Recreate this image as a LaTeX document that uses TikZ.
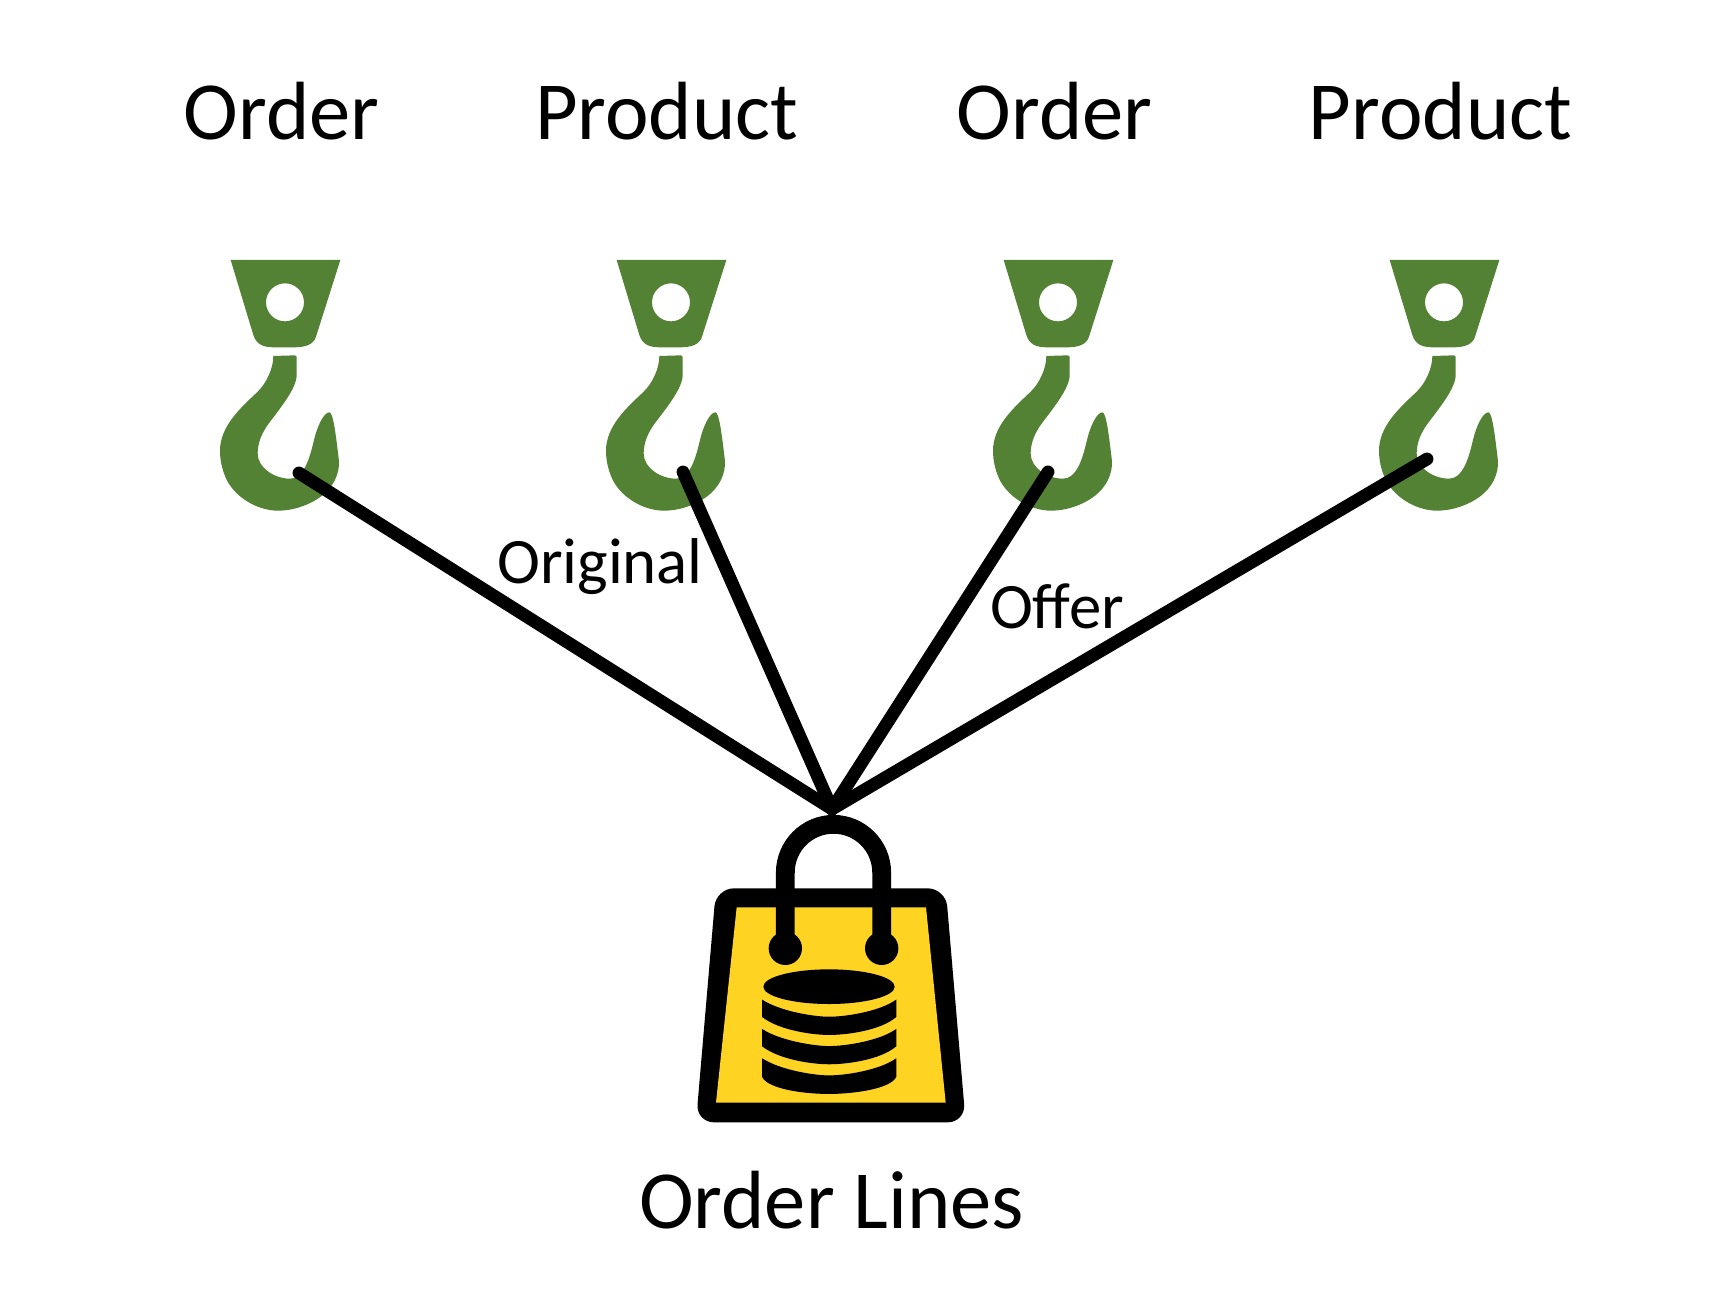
\documentclass[tikz,border=0pt]{standalone}
\usepackage{fontspec}
\setmainfont{Carlito}
\definecolor{hookgreen}{HTML}{548235}
\definecolor{bagyellow}{HTML}{FFD322}
\tikzset{
  hookshape/.style={fill=hookgreen,draw=none},
  biglabel/.style={anchor=base,inner sep=0pt,font=\fontsize{41.3pt}{48pt}\selectfont},
  smalllabel/.style={anchor=base,inner sep=0pt,font=\fontsize{32.4pt}{38pt}\selectfont},
  link/.style={draw=black,line width=6.4pt,line cap=round},
  icon/.style={x=0.16667pt,y=-0.16667pt},
  dbpart/.style={fill=black,draw=black,line width=0.6pt},
}
\newcommand{\hookicon}[1]{%
  \begin{scope}[shift={(190+#1,240)},icon]
    \path[hookshape,even odd rule] (122,60) -- (451,60) -- (378,290)
      .. controls (370,315) and (345,322) .. (310,322) -- (255,322)
      .. controls (220,322) and (200,315) .. (190,285) -- cycle
      (342,187) arc[start angle=0,end angle=360,radius=57];
    \path[hookshape] (250,348) -- (315,346) -- (320,350) -- (320,405)
      .. controls (320,445) and (270,505) .. (238,548)
      .. controls (215,578) and (203,610) .. (203,640)
      .. controls (203,685) and (255,716) .. (300,716)
      .. controls (340,716) and (358,660) .. (372,600)
      .. controls (382,557) and (402,517) .. (418,517)
      .. controls (430,517) and (438,590) .. (446,655)
      .. controls (452,705) and (425,745) .. (395,768)
      .. controls (355,798) and (305,812) .. (265,812)
      .. controls (195,812) and (130,765) .. (108,715)
      .. controls (96,688) and (90,660) .. (90,632)
      .. controls (90,560) and (150,505) .. (200,458)
      .. controls (230,430) and (250,385) .. (250,348) -- cycle;
  \end{scope}}
\begin{document}
\begin{tikzpicture}[x=0.5pt,y=-0.5pt]
\useasboundingbox[fill=white] (0,0) rectangle (1720,1299);

\hookicon{0}
\hookicon{386}
\hookicon{773}
\hookicon{1159}

% bag
\begin{scope}[shift={(680,790)},icon]
  \fill[black,rounded corners=9pt]
    (108,295) -- (797,295) -- (857,997) -- (48,997) -- cycle;
  \fill[bagyellow] (170,352) -- (738,352) -- (797,938) -- (108,938) -- cycle;
  \draw[black,line width=9.4pt] (316,470) -- (316,248)
    arc[start angle=180,end angle=360,x radius=144.5,y radius=145] -- (605,470);
  \fill[black] (316,475) circle[radius=50];
  \fill[black] (605,475) circle[radius=50];
  \fill[black] (447,590) ellipse[x radius=197,y radius=52];
  \path[dbpart] (248,632) .. controls (300,665) and (400,682) .. (447,682)
    .. controls (500,682) and (600,665) .. (647,632) -- (647,680)
    .. controls (600,720) and (500,733) .. (447,733)
    .. controls (400,733) and (300,720) .. (248,680) -- cycle;
  \path[dbpart] (248,720) .. controls (300,753) and (400,770) .. (447,770)
    .. controls (500,770) and (600,753) .. (647,720) -- (647,768)
    .. controls (600,808) and (500,821) .. (447,821)
    .. controls (400,821) and (300,808) .. (248,768) -- cycle;
  \path[dbpart] (248,808) .. controls (300,841) and (400,858) .. (447,858)
    .. controls (500,858) and (600,841) .. (647,808) -- (647,860)
    .. controls (630,895) and (520,910) .. (447,910)
    .. controls (370,910) and (265,895) .. (248,860) -- cycle;
\end{scope}

% labels
\node[biglabel] (order1) at (281.5,139.5) {Order};
\node[biglabel] (product1) at (666.6,139.5) {Product};
\node[biglabel] (order2) at (1054.7,139.5) {Order};
\node[biglabel] (product2) at (1440.5,139.5) {Product};
\node[biglabel] (lines) at (831.5,1228) {Order Lines};
\node[smalllabel] (original) at (600,584) {Original};
\node[smalllabel] (offer) at (1057,628) {Offer};

% connectors
\coordinate (hookA) at (299,473);
\coordinate (hookB) at (683,472);
\coordinate (hookC) at (1048,472);
\coordinate (hookD) at (1427,459);
\coordinate (bagtop) at (832,809);
\draw[link] (hookA) -- (bagtop);
\draw[link] (hookB) -- (bagtop);
\draw[link] (hookC) -- (bagtop);
\draw[link] (hookD) -- (bagtop);
\end{tikzpicture}
\end{document}
